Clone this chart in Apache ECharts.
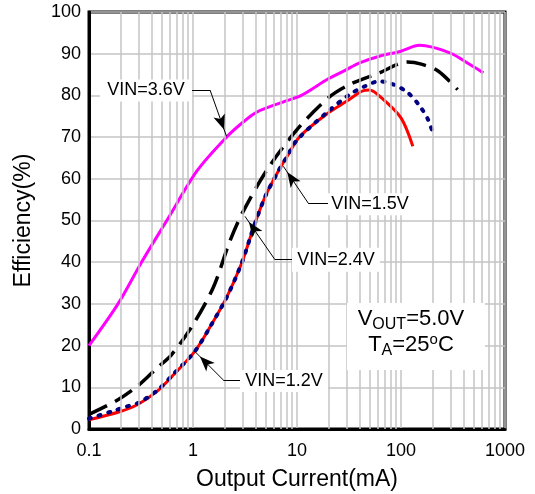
<!DOCTYPE html>
<html>
<head>
<meta charset="utf-8">
<script src="https://cdn.jsdelivr.net/npm/echarts@6/dist/echarts.min.js"></script>
<style>html,body{margin:0;padding:0;background:#fff}#c{width:535px;height:494px}</style>
</head>
<body>
<div id="c"></div>
<script>
// ---- data ----
const vin36I = [0.1, 0.19, 0.32, 0.56, 1.1, 2.1, 3, 4.1, 7.3, 11, 20, 29, 40, 62, 100, 150, 295, 460, 620];
const vin36E = [20, 30, 40, 50, 62, 70, 73.5, 76, 78.4, 80, 84, 86, 87.8, 89.4, 90.6, 92, 90.2, 87.4, 85.4];

const vin24I = [0.1, 0.19, 0.3, 0.45, 0.62, 1, 1.57, 2.26, 2.94, 5.1, 10, 20, 32, 62, 115, 157, 229, 350];
const vin24E = [3.5, 7, 10.5, 14.6, 17.8, 25, 34, 45, 51.5, 62, 71.8, 79.4, 82.6, 85.4, 88, 87.5, 85.8, 81.4];

const vin15I = [0.1, 0.165, 0.23, 0.3, 0.45, 0.65, 1.04, 1.5, 2.1, 2.94, 3.9, 5, 6.6, 8, 10, 20, 32, 45, 62, 85, 117, 152, 182, 204];
const vin15E = [2.5, 4.2, 5.4, 6.3, 9.2, 13.2, 18.6, 25, 31.5, 39.8, 49, 56, 61.8, 65.3, 69.3, 76.2, 80.2, 82.2, 83.4, 82.6, 80.6, 77.4, 74.2, 70.8];

const vin12I = [0.1, 0.2, 0.3, 0.45, 0.65, 1.04, 1.5, 2.1, 2.94, 3.9, 5, 6.6, 8, 10.7, 20, 30, 42, 50, 65, 100, 130];
const vin12E = [2.2, 4.2, 6, 9, 13, 18.6, 25, 31.5, 39.8, 49, 56, 61.8, 65.3, 70.2, 75.8, 78.6, 81, 81.3, 79.4, 74.6, 67.8];

const xTickLabels = ['0.1', '1', '10', '100', '1000'];
const minorX = [0.2,0.3,0.4,0.5,0.6,0.7,0.8,0.9, 2,3,4,5,6,7,8,9, 20,30,40,50,60,70,80,90, 200,300,400,500,600,700,800,900];

// annotation anchors (data coordinates)
const labels = [
  {text: 'VIN=3.6V', at: [0.353, 81.2], box: [92, 22], leader: [[0.978, 81.3], [1.458, 81.3]], arrow: [[1.458, 81.3], [2.1, 70.2]]},
  {text: 'VIN=1.5V', at: [50.4, 53.9], box: [84, 22], leader: [[19.9, 54.2], [12.8, 54.2]], arrow: [[12.8, 54.2], [7.39, 63.0]]},
  {text: 'VIN=2.4V', at: [23.7, 40.6], box: [88, 24], leader: [[9.2, 40.6], [6.14, 40.6]], arrow: [[6.14, 40.6], [3.16, 51.0]]},
  {text: 'VIN=1.2V', at: [7.5, 11.5], box: [88, 22], leader: [[2.94, 11.76], [1.955, 11.76]], arrow: [[1.955, 11.76], [1.045, 18.56]]}
];
const condAt = [139.3, 22.2];

const zip = (a, b) => a.map((v, i) => [v, b[i]]);
const FONT = 'Liberation Sans, Arial, sans-serif';

const chart = echarts.init(document.getElementById('c'), null, {renderer: 'canvas'});

const curve = (name, xs, ys, lineStyle) => ({
  name, type: 'line', data: zip(xs, ys), showSymbol: false, smooth: 0.3, z: 3,
  lineStyle, silent: true, animation: false
});

const leaderData = [];
labels.forEach(l => {
  leaderData.push([{coord: l.leader[0], symbol: 'none'}, {coord: l.leader[1], symbol: 'none'}]);
  leaderData.push([{coord: l.arrow[0], symbol: 'none'},
                   {coord: l.arrow[1], symbol: 'arrow', symbolSize: [9, 15], symbolOffset: [0, 7]}]);
});

chart.setOption({
  backgroundColor: '#fff',
  animation: false,
  grid: {left: 89, right: 30, top: 12, bottom: 65, containLabel: false, outerBoundsMode: 'none',
         show: true, borderColor: '#000', borderWidth: 3, backgroundColor: 'transparent'},
  xAxis: {
    type: 'log', logBase: 10, min: 0.1, max: 1000,
    name: 'Output Current(mA)', nameLocation: 'middle', nameGap: 39,
    nameTextStyle: {fontFamily: FONT, fontSize: 23, color: '#000'},
    axisLine: {show: true, lineStyle: {color: '#000', width: 3}},
    axisTick: {show: false},
    axisLabel: {fontFamily: FONT, fontSize: 18, color: '#000', margin: 13,
      formatter: v => { const i = Math.round(Math.log10(v) + 1); return xTickLabels[i] !== undefined ? xTickLabels[i] : ''; }},
    splitLine: {show: true, lineStyle: {color: '#c4c4c4', width: 1.5}}
  },
  yAxis: {
    type: 'value', min: 0, max: 100, interval: 10,
    name: 'Efficiency(%)', nameLocation: 'middle', nameGap: 54,
    nameTextStyle: {fontFamily: FONT, fontSize: 23, color: '#000'},
    axisLine: {show: true, lineStyle: {color: '#000', width: 3}},
    axisTick: {show: false},
    axisLabel: {fontFamily: FONT, fontSize: 18, color: '#000', margin: 8},
    splitLine: {show: true, lineStyle: {color: '#c4c4c4', width: 1.5}}
  },
  series: [
    {
      name: 'minor', type: 'line', data: [], z: 1, silent: true,
      markLine: {silent: true, symbol: ['none', 'none'], label: {show: false}, animation: false,
        lineStyle: {color: '#c4c4c4', width: 1.5, type: 'solid'},
        data: minorX.map(v => ({xAxis: v}))}
    },
    curve('VIN=3.6V', vin36I, vin36E, {color: '#ff00ff', width: 3, type: 'solid'}),
    curve('VIN=2.4V', vin24I, vin24E, {color: '#000', width: 3.5, type: [20, 9]}),
    curve('VIN=1.2V', vin12I, vin12E, {color: '#ff0000', width: 3, type: 'solid'}),
    curve('VIN=1.5V', vin15I, vin15E, {color: '#000080', width: 4, type: [2, 8], cap: 'round'}),
    {
      name: 'notes', type: 'scatter', data: [], z: 5, silent: true,
      markLine: {
        silent: true, animation: false, label: {show: false},
        lineStyle: {color: '#000', width: 1, type: 'solid'},
        itemStyle: {color: '#000'},
        data: leaderData
      },
      markPoint: {
        silent: true, animation: false,
        data: labels.map(l => ({
          coord: l.at, symbol: 'rect', symbolSize: l.box, itemStyle: {color: '#fff'},
          label: {show: true, position: 'inside', formatter: l.text, fontFamily: FONT, fontSize: 18, color: '#000'}
        })).concat([{
          coord: condAt, symbol: 'rect', symbolSize: [138, 67], itemStyle: {color: '#fff'},
          label: {
            show: true, position: 'inside', padding: [0, 10, 8, 0],
            formatter: '{a|V}{s|OUT}{a|=5.0V}\n{a|T}{s|A}{a|=25}{p|o}{a|C}',
            rich: {
              a: {fontFamily: FONT, fontSize: 22, lineHeight: 26, color: '#000'},
              s: {fontFamily: FONT, fontSize: 16, lineHeight: 16, verticalAlign: 'bottom', color: '#000'},
              p: {fontFamily: FONT, fontSize: 15, lineHeight: 17, verticalAlign: 'top', color: '#000'}
            }
          }
        }])
      }
    }
  ]
});
</script>
</body>
</html>
